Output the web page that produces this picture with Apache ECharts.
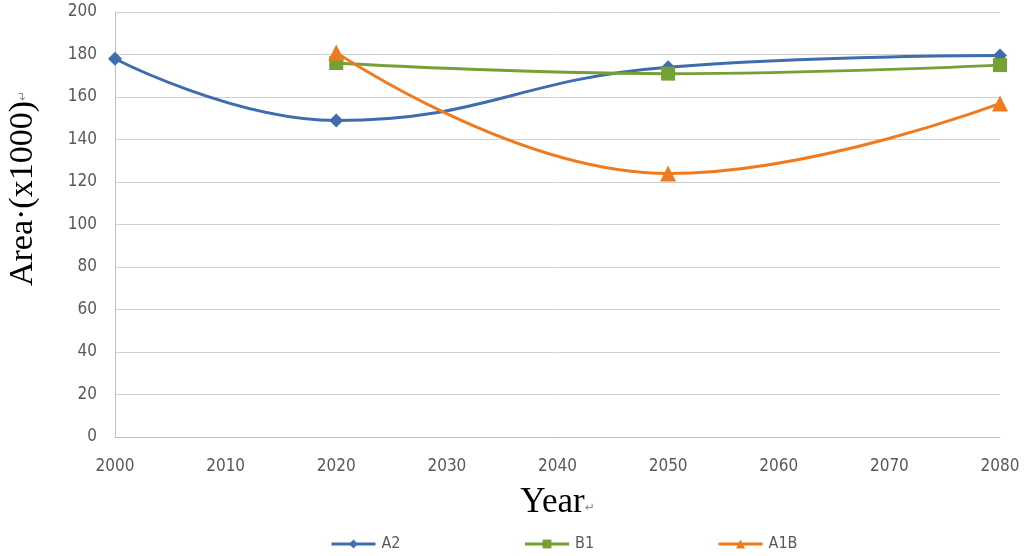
<!DOCTYPE html>
<html>
<head>
<meta charset="utf-8">
<script src="https://cdn.jsdelivr.net/npm/echarts@6/dist/echarts.min.js"></script>
<style>html,body{margin:0;padding:0;background:#fff;}#c{width:1024px;height:556px;}</style>
</head>
<body>
<div id="c"></div>
<script>
const years = [2000, 2020, 2050, 2080];
const seriesNames = ['A2', 'B1', 'A1B'];
const A2 = [[2000, 178], [2020, 149], [2050, 174], [2080, 179.5]];
const B1 = [[2020, 176], [2050, 171], [2080, 175]];
const A1B = [[2020, 181], [2050, 124], [2080, 157]];
const xTitle = 'Year';
const yTitle = 'Area·(x1000)';

const colors = ['#3f6cac', '#74a034', '#f07a1e'];
const symbols = ['diamond', 'rect', 'triangle'];
const sizes = [14, 14, 16];
const datas = [A2, B1, A1B];
const tickFont = 'Liberation Sans Narrow, DejaVu Sans Condensed, Liberation Sans';

const chart = echarts.init(document.getElementById('c'));
chart.setOption({
  animation: false,
  grid: { left: 115, right: 24, top: 12, bottom: 119, containLabel: false, outerBoundsMode: 'none' },
  xAxis: {
    type: 'value', min: 2000, max: 2080, interval: 10,
    name: '{t|' + xTitle + '}{a|↵}', nameLocation: 'middle', nameGap: 48,
    nameTextStyle: { rich: {
      t: { fontFamily: 'Liberation Serif', fontSize: 35, color: '#000' },
      a: { fontFamily: 'DejaVu Sans', fontSize: 12, color: '#888', padding: [10, 0, 0, 0] }
    } },
    axisLine: { show: true, lineStyle: { color: '#bfbfbf', width: 1 } },
    axisTick: { show: false },
    splitLine: { show: false },
    axisLabel: { color: '#595959', fontSize: 17, fontFamily: tickFont, margin: 21, formatter: v => String(v) }
  },
  yAxis: {
    type: 'value', min: 0, max: 200, interval: 20,
    name: '{t|' + yTitle + '}{a|↵}', nameLocation: 'middle', nameGap: 75,
    nameTextStyle: { rich: {
      t: { fontFamily: 'Liberation Serif', fontSize: 34, color: '#000', padding: [0, 0, 0, 72] },
      a: { fontFamily: 'DejaVu Sans', fontSize: 12, color: '#888' }
    } },
    axisLine: { show: true, lineStyle: { color: '#bfbfbf', width: 1 } },
    axisTick: { show: false },
    splitLine: { show: true, lineStyle: { color: '#d0d0d0', width: 1 } },
    axisLabel: { color: '#595959', fontSize: 17, fontFamily: tickFont, margin: 18 }
  },
  legend: {
    bottom: 4, left: 330, padding: 0, itemGap: 123, itemWidth: 44, itemHeight: 11,
    textStyle: { color: '#595959', fontSize: 16, fontFamily: tickFont, padding: [0, 0, 0, 1] },
    lineStyle: { width: 3 },
    data: seriesNames
  },
  series: seriesNames.map((n, i) => ({
    name: n, type: 'line', data: datas[i], smooth: 0.45,
    symbol: symbols[i], symbolSize: sizes[i],
    lineStyle: { color: colors[i], width: 3 },
    itemStyle: { color: colors[i] }
  }))
});
</script>
</body>
</html>
